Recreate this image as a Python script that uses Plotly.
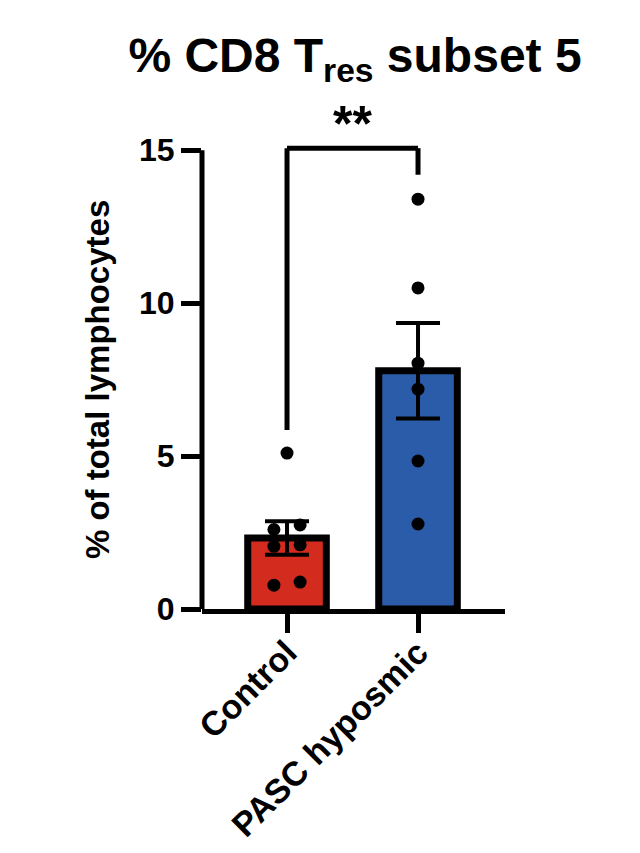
import plotly.graph_objects as go

# ---- data ----
categories = ["Control", "PASC hyposmic"]
bar_means = [2.32, 7.79]
bar_sem = [0.55, 1.56]
control_values = [5.1, 2.6, 2.75, 2.05, 2.1, 0.78, 0.88]
pasc_values = [13.4, 10.5, 8.04, 7.19, 4.84, 2.78]
control_jitter = [0, -0.1, 0.1, -0.1, 0.1, -0.1, 0.1]
pasc_jitter = [0, 0, 0, 0, 0, 0]
ytick_vals = [0, 5, 10, 15]
title_text = "% CD8 T<sub>res</sub> subset 5"
y_title = "% of total lymphocytes"
sig_label = "**"

bar_colors = ["#D42B1F", "#2A5CAA"]
FONT = "Liberation Sans, Arial, Helvetica, sans-serif"

xpos = list(range(len(categories)))

fig = go.Figure()
fig.add_trace(go.Bar(
    x=xpos, y=bar_means, width=0.6,
    marker=dict(color=bar_colors, line=dict(color="black", width=7)),
    error_y=dict(type="data", array=bar_sem, visible=True,
                 color="black", thickness=4, width=22),
    showlegend=False,
))

pts_x = [xpos[0] + j for j in control_jitter] + [xpos[1] + j for j in pasc_jitter]
pts_y = control_values + pasc_values
fig.add_trace(go.Scatter(
    x=pts_x, y=pts_y, mode="markers",
    marker=dict(color="black", size=13),
    showlegend=False, cliponaxis=False,
))

# significance bracket, derived from data maxima
level = 15.07
left_bottom = max(control_values) + 0.75
right_bottom = max(pasc_values) + 0.8
line = dict(color="black", width=5)
fig.add_shape(type="line", xref="x", yref="y", x0=xpos[0], x1=xpos[0], y0=left_bottom, y1=level, line=line)
fig.add_shape(type="line", xref="x", yref="y", x0=xpos[0], x1=xpos[1], y0=level, y1=level, line=line)
fig.add_shape(type="line", xref="x", yref="y", x0=xpos[1], x1=xpos[1], y0=right_bottom, y1=level, line=line)
# y axis line (0 to 15)
fig.add_shape(type="line", xref="paper", yref="y", x0=0, x1=0,
              y0=ytick_vals[0], y1=ytick_vals[-1], line=line)

fig.add_annotation(x=(xpos[0] + xpos[1]) / 2, y=level, xref="x", yref="y",
                   text=sig_label, showarrow=False, yanchor="bottom", yshift=-6,
                   font=dict(family=FONT, size=50, color="black", weight="bold"))
fig.add_annotation(x=-0.345, y=(ytick_vals[0] + ytick_vals[-1]) / 2, xref="paper", yref="y",
                   text=y_title, textangle=-90, showarrow=False,
                   xanchor="center", yanchor="middle",
                   font=dict(family=FONT, size=33, color="black", weight="bold"))

fig.update_layout(
    width=640, height=853,
    margin=dict(l=202, r=135, t=135, b=244),
    paper_bgcolor="white", plot_bgcolor="white",
    title=dict(text=title_text, x=355 / 640, xanchor="center",
               y=1 - 55 / 853, yref="container", yanchor="middle",
               font=dict(family=FONT, size=48, color="black", weight="bold")),
    xaxis=dict(range=[-0.649, 1.664], tickvals=xpos, ticktext=categories,
               tickangle=-45, showline=True, linewidth=5, linecolor="black",
               ticks="outside", ticklen=19, tickwidth=5, tickcolor="black",
               ticklabelstandoff=-14,
               showgrid=False, zeroline=False, automargin=False,
               tickfont=dict(family=FONT, size=34, color="black", weight="bold")),
    yaxis=dict(range=[0, 15.5], tickvals=ytick_vals, showline=False,
               ticks="outside", ticklen=20, tickwidth=5, tickcolor="black",
               showgrid=False, zeroline=False, automargin=False,
               tickfont=dict(family=FONT, size=32, color="black", weight="bold")),
)

fig.write_html("out.html")
